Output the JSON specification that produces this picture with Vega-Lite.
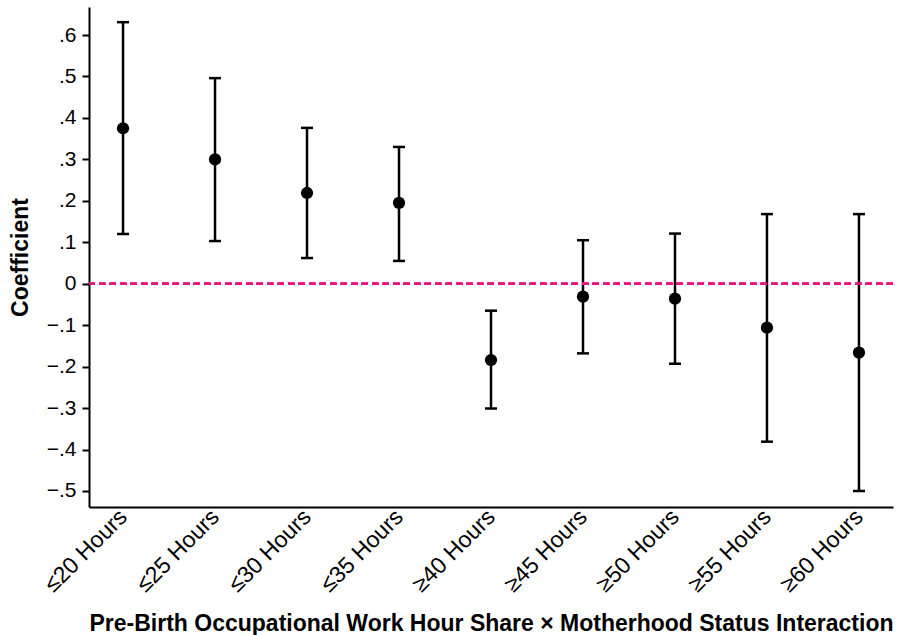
{
  "$schema": "https://vega.github.io/schema/vega-lite/v6.json",
  "width": 804,
  "height": 500,
  "autosize": {"type": "none"},
  "padding": {"left": 89, "top": 7, "right": 18, "bottom": 128},
  "background": "white",
  "config": {
    "view": {"stroke": null},
    "font": "Liberation Sans",
    "axis": {"grid": false, "domainColor": "black", "tickColor": "black", "labelColor": "black", "titleColor": "black", "labelFont": "Liberation Sans", "titleFont": "Liberation Sans"}
  },
  "data": {
    "values": [
      {"group": "≤20 Hours", "coef": 0.375, "lo": 0.120, "hi": 0.631},
      {"group": "≤25 Hours", "coef": 0.300, "lo": 0.103, "hi": 0.496},
      {"group": "≤30 Hours", "coef": 0.219, "lo": 0.062, "hi": 0.376},
      {"group": "≤35 Hours", "coef": 0.195, "lo": 0.055, "hi": 0.330},
      {"group": "≥40 Hours", "coef": -0.184, "lo": -0.301, "hi": -0.065},
      {"group": "≥45 Hours", "coef": -0.031, "lo": -0.168, "hi": 0.105},
      {"group": "≥50 Hours", "coef": -0.036, "lo": -0.193, "hi": 0.121},
      {"group": "≥55 Hours", "coef": -0.106, "lo": -0.381, "hi": 0.168},
      {"group": "≥60 Hours", "coef": -0.166, "lo": -0.500, "hi": 0.168}
    ]
  },
  "layer": [
    {
      "mark": {"type": "rule", "color": "black", "strokeWidth": 2.5},
      "encoding": {
        "x": {
          "field": "group",
          "type": "ordinal",
          "sort": null,
          "scale": {"type": "point", "padding": 0.37},
          "axis": {
            "title": "Pre-Birth Occupational Work Hour Share × Motherhood Status Interaction",
            "titleFontSize": 23,
            "titleFontWeight": "bold",
            "titlePadding": 16,
            "labelAngle": -45,
            "labelAlign": "right",
            "labelBaseline": "middle",
            "labelFontSize": 23,
            "labelPadding": 6,
            "ticks": false,
            "domainWidth": 2
          }
        },
        "y": {
          "field": "lo",
          "type": "quantitative",
          "scale": {"domain": [-0.5386, 0.6676], "nice": false, "zero": false},
          "axis": {
            "title": "Coefficient",
            "titleFontSize": 23,
            "titleFontWeight": "bold",
            "titlePadding": 14,
            "values": [-0.5, -0.4, -0.3, -0.2, -0.1, 0, 0.1, 0.2, 0.3, 0.4, 0.5, 0.6],
            "labelExpr": "datum.value == 0 ? '0' : (datum.value < 0 ? '−' : '') + replace(format(abs(datum.value), '.1f'), '0.', '.')",
            "labelFontSize": 21,
            "tickSize": 7,
            "tickWidth": 2,
            "domainWidth": 2,
            "labelPadding": 6
          }
        },
        "y2": {"field": "hi"}
      }
    },
    {
      "mark": {"type": "rule", "color": "#e8177f", "strokeWidth": 2, "strokeDash": [6.5, 4]},
      "encoding": {"y": {"datum": 0}}
    },
    {
      "mark": {"type": "tick", "color": "black", "size": 12, "thickness": 2.5, "orient": "horizontal", "opacity": 1},
      "encoding": {
        "x": {"field": "group", "type": "ordinal", "sort": null},
        "y": {"field": "hi", "type": "quantitative"}
      }
    },
    {
      "mark": {"type": "tick", "color": "black", "size": 12, "thickness": 2.5, "orient": "horizontal", "opacity": 1},
      "encoding": {
        "x": {"field": "group", "type": "ordinal", "sort": null},
        "y": {"field": "lo", "type": "quantitative"}
      }
    },
    {
      "mark": {"type": "circle", "color": "black", "size": 150, "opacity": 1},
      "encoding": {
        "x": {"field": "group", "type": "ordinal", "sort": null},
        "y": {"field": "coef", "type": "quantitative"}
      }
    }
  ]
}
